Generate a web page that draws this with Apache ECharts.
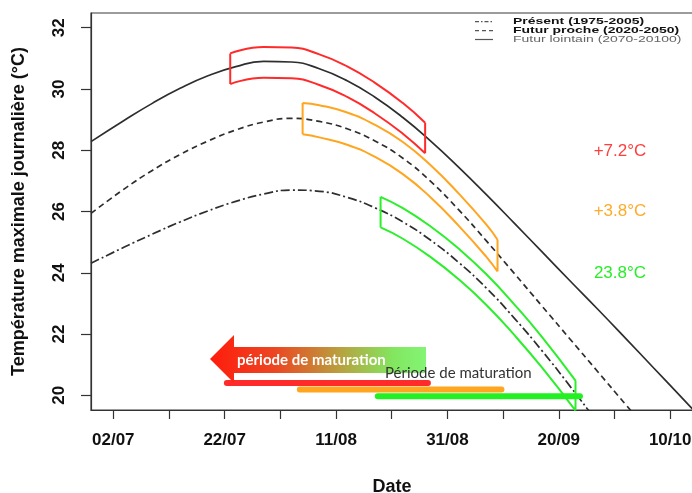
<!DOCTYPE html>
<html><head><meta charset="utf-8">
<script src="https://cdn.jsdelivr.net/npm/echarts@6/dist/echarts.min.js"></script>
<style>html,body{margin:0;padding:0;background:#fff}#c{width:692px;height:493px}</style>
</head><body><div id="c"></div>
<script>
// ---- data (x = day of year, 183 = 02/07) ----
const curveDays = [179,185,190,195,200,205,210,215,220,225,230,235,240,245,250,255,260,265,270,275,280,285,290];
const lointain = [28.28,28.98,29.53,30.02,30.43,30.73,30.9,30.88,30.66,30.27,29.73,29.07,28.3,27.45,26.55,25.62,24.68,23.74,22.81,21.86,20.9,19.94,18.98];
const proche   = [25.94,26.74,27.34,27.86,28.3,28.66,28.92,29.04,28.94,28.7,28.3,27.74,26.98,26.06,25.04,23.98,22.91,21.84,20.77,19.7,18.63,17.56,16.5];
const present  = [24.31,24.84,25.26,25.66,26.02,26.33,26.57,26.7,26.66,26.46,26.12,25.66,25.06,24.34,23.5,22.52,21.45,20.3,19.1,17.85,16.6,15.3,14.0];

const redBoxDays = [204,210,215,220,225,230,235,239];
const redBoxUpper = [31.16,31.37,31.35,31.13,30.74,30.2,29.54,28.9];
const redBoxLower = [30.16,30.37,30.35,30.13,29.74,29.2,28.54,27.9];
const orangeBoxDays = [217,220,225,230,235,240,245,250,252];
const orangeBoxUpper = [29.54,29.47,29.23,28.83,28.27,27.51,26.59,25.57,25.08];
const orangeBoxLower = [28.52,28.42,28.18,27.78,27.22,26.46,25.54,24.52,24.04];
const greenBoxDays = [231,235,240,245,250,255,260,266];
const greenBoxUpper = [26.48,26.11,25.51,24.79,23.95,22.97,21.9,20.48];
const greenBoxLower = [25.48,25.11,24.51,23.79,22.95,21.97,20.9,19.5];

const barStart = [203.4,216.5,230.5];
const barEnd   = [239.5,252.7,266.8];
const barLevel = [20.40,20.19,19.97];

const xTickDays = [183,193,203,213,223,233,243,253,263,273,283];
const xLabelDays = [183,203,223,243,263,283];
const xLabels = ['02/07','22/07','11/08','31/08','20/09','10/10'];
const yTicks = [20,22,24,26,28,30,32];
const deltaLabels = ['+7.2°C','+3.8°C','23.8°C'];
const legendNames = ['Présent (1975-2005)','Futur proche (2020-2050)','Futur lointain (2070-20100)'];

const RED='#ff2b2b', ORANGE='#ffa51f', GREEN='#2bef2b';
const FONT = "'Liberation Sans', Arial, sans-serif";

function pairs(xs, ys){ return xs.map((x,i)=>[x,ys[i]]); }
function boxData(days, up, lo){
  const n = days.length-1, gap=['-','-'];
  return [].concat(pairs(days,up),[gap],pairs(days,lo),[gap],
    [[days[0],up[0]],[days[0],lo[0]]],[gap],[[days[n],up[n]],[days[n],lo[n]]]);
}
function boxSeries(days, up, lo, color){
  return {type:'line', data:boxData(days,up,lo), smooth:true, symbol:'none', z:4,
    lineStyle:{color, width:2}, silent:true};
}
function curve(vals, type){
  return {type:'line', data:pairs(curveDays, vals), smooth:true, symbol:'none', z:3,
    lineStyle:{color:'#2e2e2e', width:1.7, type}, silent:true};
}
const barColors=[RED,ORANGE,'#22f022'];
const bars = barStart.map((s,i)=>({type:'line', symbol:'none', z:5, silent:true,
  data:[[s,barLevel[i]],[barEnd[i],barLevel[i]]],
  lineStyle:{color:barColors[i], width:6, cap:'round'}}));

const chart = echarts.init(document.getElementById('c'), null, {renderer:'canvas'});
const legendY=[21.7,30.7,39.5];
const legendDash=[[4,2,1.5,2],[4,3],null];
const graphic=[];
legendNames.forEach((n,i)=>{
  graphic.push({type:'line', shape:{x1:475,y1:legendY[i],x2:493,y2:legendY[i]},
    style:{stroke:'#555', lineWidth:1.2, lineDash:legendDash[i]}});
  graphic.push({type:'text', x:513, y:legendY[i], scaleX:1.27, scaleY:0.84,
    style:{text:n, font:(i<2?'bold ':'')+'11px '+FONT, fill:i<2?'#111':'#666', verticalAlign:'middle'}});
});
const deltaY=[151.5,211.5,273];
const deltaC=['#ff3d3d','#ffab2a','#27ee27'];
deltaLabels.forEach((t,i)=>graphic.push({type:'text', x:620, y:deltaY[i],
  style:{text:t, font:'17px '+FONT, fill:deltaC[i], align:'center', verticalAlign:'middle'}}));
graphic.push({type:'polygon', z:10,
  shape:{points:[[210,359],[234,335],[234,347],[426,347],[426,373],[234,373],[234,383]]},
  style:{fill:new echarts.graphic.LinearGradient(0,0,1,0,[
    {offset:0,color:'#ff1c0c'},{offset:0.3,color:'#ec4622'},{offset:0.6,color:'#b9a03e'},
    {offset:0.85,color:'rgba(120,228,82,0.92)'},{offset:1,color:'rgba(110,242,92,0.85)'}])}});
graphic.push({type:'text', z:11, x:237, y:360,
  style:{text:'période de maturation', font:'bold 15px Lato, sans-serif', fill:'#fff', verticalAlign:'middle'}});
graphic.push({type:'text', z:11, x:385, y:373,
  style:{text:'Période de maturation', font:'15px Lato, sans-serif', fill:'#333', verticalAlign:'middle'}});

chart.setOption({
  animation:false,
  grid:{left:91, top:13, width:602, height:397, show:true, borderColor:'#3a3a3a', borderWidth:1.2,
    backgroundColor:'#fff', containLabel:false, outerBoundsMode:'none'},
  xAxis:{type:'value', min:179, max:287.1,
    name:'Date', nameLocation:'middle', nameGap:68,
    nameTextStyle:{fontFamily:FONT, fontWeight:'bold', fontSize:18, color:'#111'},
    axisLine:{show:true, onZero:false, lineStyle:{color:'#333', width:1.2}},
    axisTick:{show:true, length:9, customValues:xTickDays, lineStyle:{color:'#333', width:1.2}},
    axisLabel:{customValues:xLabelDays, margin:22, fontFamily:FONT, fontWeight:'bold', fontSize:17, color:'#111',
      formatter:v=>xLabels[xLabelDays.indexOf(Math.round(v))] || ''},
    splitLine:{show:false}},
  yAxis:{type:'value', min:19.52, max:32.48,
    name:'Température maximale journalière (°C)', nameLocation:'middle', nameGap:63, nameRotate:90,
    nameTextStyle:{fontFamily:FONT, fontWeight:'bold', fontSize:18, color:'#111'},
    axisLine:{show:true, onZero:false, lineStyle:{color:'#333', width:1.2}},
    axisTick:{show:true, length:10, customValues:yTicks, lineStyle:{color:'#333', width:1.2}},
    axisLabel:{customValues:yTicks, rotate:90, margin:23, fontFamily:FONT, fontWeight:'bold', fontSize:17, color:'#111'},
    splitLine:{show:false}},
  series:[
    curve(lointain,'solid'), curve(proche,[6,4]), curve(present,[9,3,2,3]),
    boxSeries(redBoxDays,redBoxUpper,redBoxLower,RED),
    boxSeries(orangeBoxDays,orangeBoxUpper,orangeBoxLower,ORANGE),
    boxSeries(greenBoxDays,greenBoxUpper,greenBoxLower,GREEN),
    ...bars
  ],
  graphic
});
</script></body></html>
